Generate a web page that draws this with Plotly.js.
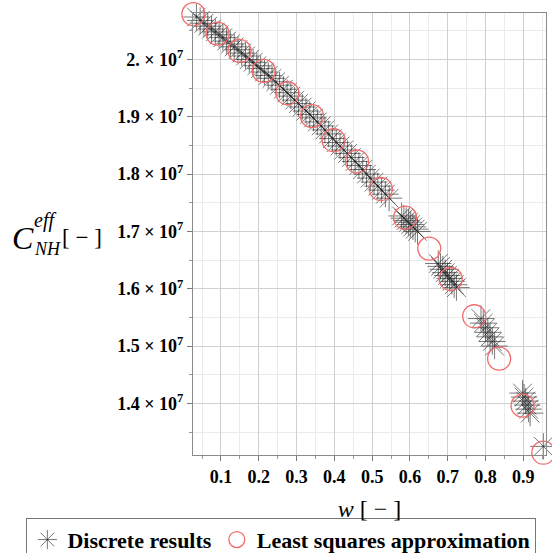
<!DOCTYPE html>
<html>
<head>
<meta charset="utf-8">
<script src="https://cdn.plot.ly/plotly-3.0.1.min.js"></script>
<style>
  html, body { margin: 0; padding: 0; background: #ffffff; }
  #chart { width: 552px; height: 553px; }
</style>
</head>
<body>
<div id="chart"></div>
<script>
// Effective stiffness C_NH^eff (in units of 10^7) against the weight w.
const UNIT = 1e7;

// Discrete results
const discreteW = [
  0.035, 0.045, 0.055, 0.065, 0.075, 0.085, 0.095, 0.105, 0.115, 0.125,
  0.135, 0.145, 0.155, 0.165, 0.175, 0.185, 0.195, 0.205, 0.215, 0.225,
  0.235, 0.245, 0.255, 0.265, 0.275, 0.285, 0.295, 0.305, 0.315, 0.325,
  0.335, 0.345, 0.355, 0.365, 0.375, 0.385, 0.395, 0.405, 0.415, 0.425,
  0.435, 0.445, 0.455, 0.465, 0.475, 0.485, 0.495, 0.505, 0.515, 0.525,
  0.535, 0.545,
  0.578, 0.584, 0.590, 0.596, 0.602, 0.608, 0.614, 0.620,
  0.675, 0.681, 0.687, 0.693, 0.699, 0.705, 0.711, 0.717, 0.723,
  0.788, 0.794, 0.800, 0.806, 0.812, 0.818, 0.824,
  0.898, 0.902, 0.906, 0.910, 0.914, 0.918,
  0.953
];
const discreteC = [
  2.074, 2.068, 2.063, 2.058, 2.053, 2.048, 2.043, 2.038, 2.032, 2.027,
  2.022, 2.017, 2.011, 2.006, 2.000, 1.995, 1.989, 1.984, 1.978, 1.972,
  1.967, 1.961, 1.955, 1.948, 1.942, 1.936, 1.929, 1.923, 1.917, 1.910,
  1.904, 1.898, 1.891, 1.884, 1.877, 1.870, 1.862, 1.855, 1.849, 1.842,
  1.836, 1.829, 1.822, 1.815, 1.808, 1.800, 1.793, 1.786, 1.779, 1.772,
  1.765, 1.758,
  1.727, 1.723, 1.719, 1.716, 1.712, 1.708, 1.704, 1.700,
  1.644, 1.639, 1.634, 1.628, 1.623, 1.618, 1.613, 1.607, 1.602,
  1.548, 1.540, 1.532, 1.524, 1.516, 1.508, 1.500,
  1.418, 1.411, 1.404, 1.397, 1.390, 1.383,
  1.325
];

// Least squares approximation
const fitW = [0.027, 0.091, 0.149, 0.213, 0.276, 0.341, 0.398, 0.460,
              0.523, 0.587, 0.651, 0.708, 0.770, 0.836, 0.898, 0.953];
const fitC = [2.079, 2.045, 2.015, 1.980, 1.941, 1.901, 1.859, 1.822,
              1.774, 1.724, 1.670, 1.617, 1.552, 1.478, 1.396, 1.314];

// Axis ticks
const xTickVals = [0.1, 0.2, 0.3, 0.4, 0.5, 0.6, 0.7, 0.8, 0.9];
const xTickText = ['0.1', '0.2', '0.3', '0.4', '0.5', '0.6', '0.7', '0.8', '0.9'];
const yTickVals = [1.4, 1.5, 1.6, 1.7, 1.8, 1.9, 2.0];
const yTickMant = ['1.4', '1.5', '1.6', '1.7', '1.8', '1.9', '2.'];

const SERIF = '"Liberation Serif", "DejaVu Serif", serif';
const NB = '\u00a0';

const traces = [
  {
    type: 'scatter',
    mode: 'markers',
    name: 'Discrete results',
    x: discreteW,
    y: discreteC.map(v => v * UNIT),
    cliponaxis: false,
    marker: {
      symbol: 'asterisk-open',
      size: 22,
      color: 'rgba(30,30,30,0.6)',
      line: { color: 'rgba(30,30,30,0.6)', width: 1 }
    },
    hoverinfo: 'x+y'
  },
  {
    type: 'scatter',
    mode: 'markers',
    name: 'Least squares approximation',
    x: fitW,
    y: fitC.map(v => v * UNIT),
    cliponaxis: false,
    marker: {
      symbol: 'circle-open',
      size: 23,
      color: '#f26a6a',
      line: { color: '#f26a6a', width: 1.3 }
    },
    hoverinfo: 'x+y'
  }
];

const axisCommon = {
  showline: true,
  mirror: true,
  linecolor: '#8a8a8a',
  linewidth: 1,
  ticks: 'outside',
  ticklen: 5,
  tickcolor: '#777',
  showgrid: true,
  gridcolor: '#d0d0d0',
  gridwidth: 1,
  zeroline: false,
  tickfont: { family: SERIF, size: 18, color: '#000', weight: 'bold' }
};

const layout = {
  width: 552,
  height: 553,
  margin: { l: 193, r: 6, t: 13, b: 98, autoexpand: false },
  paper_bgcolor: '#ffffff',
  plot_bgcolor: '#ffffff',
  showlegend: true,
  xaxis: Object.assign({}, axisCommon, {
    range: [0.026, 0.96],
    tickmode: 'array',
    tickvals: xTickVals,
    ticktext: xTickText,
    minor: { dtick: 0.05, tick0: 0, ticks: 'outside', ticklen: 3, tickcolor: '#999',
             showgrid: true, gridcolor: '#ebebeb' },
    title: {
      text: '<i>w</i> [ − ]',
      font: { family: SERIF, size: 24, color: '#000' },
      standoff: 14
    }
  }),
  yaxis: Object.assign({}, axisCommon, {
    range: [1.31 * UNIT, 2.081 * UNIT],
    tickmode: 'array',
    tickvals: yTickVals.map(v => v * UNIT),
    ticktext: yTickMant.map(m => m + NB + '×' + NB + '10<sup>7</sup>'),
    minor: { dtick: 0.05 * UNIT, tick0: 0, ticks: 'outside', ticklen: 3, tickcolor: '#999',
             showgrid: true, gridcolor: '#ebebeb' }
  }),
  legend: {
    orientation: 'h',
    xref: 'paper',
    yref: 'paper',
    x: -0.472,
    xanchor: 'left',
    y: -0.142,
    yanchor: 'top',
    bordercolor: '#777',
    borderwidth: 1,
    bgcolor: '#ffffff',
    itemwidth: 30,
    tracegroupgap: 0,
    font: { family: SERIF, size: 22, color: '#000', weight: 'bold' }
  },
  annotations: [
    { xref: 'paper', yref: 'paper', x: -0.483, y: 0.49, xanchor: 'center', yanchor: 'middle',
      text: '<i>C</i>', showarrow: false, font: { family: SERIF, size: 32, color: '#000' } },
    { xref: 'paper', yref: 'paper', x: -0.457, y: 0.53, xanchor: 'left', yanchor: 'middle',
      text: '<i>eff</i>', showarrow: false, font: { family: SERIF, size: 20, color: '#000' } },
    { xref: 'paper', yref: 'paper', x: -0.455, y: 0.466, xanchor: 'left', yanchor: 'middle',
      text: '<i>NH</i>', showarrow: false, font: { family: SERIF, size: 18, color: '#000' } },
    { xref: 'paper', yref: 'paper', x: -0.378, y: 0.493, xanchor: 'left', yanchor: 'middle',
      text: '[ − ]', showarrow: false, font: { family: SERIF, size: 23, color: '#000' } }
  ]
};

Plotly.newPlot('chart', traces, layout, { displayModeBar: false, staticPlot: true });
</script>
</body>
</html>
